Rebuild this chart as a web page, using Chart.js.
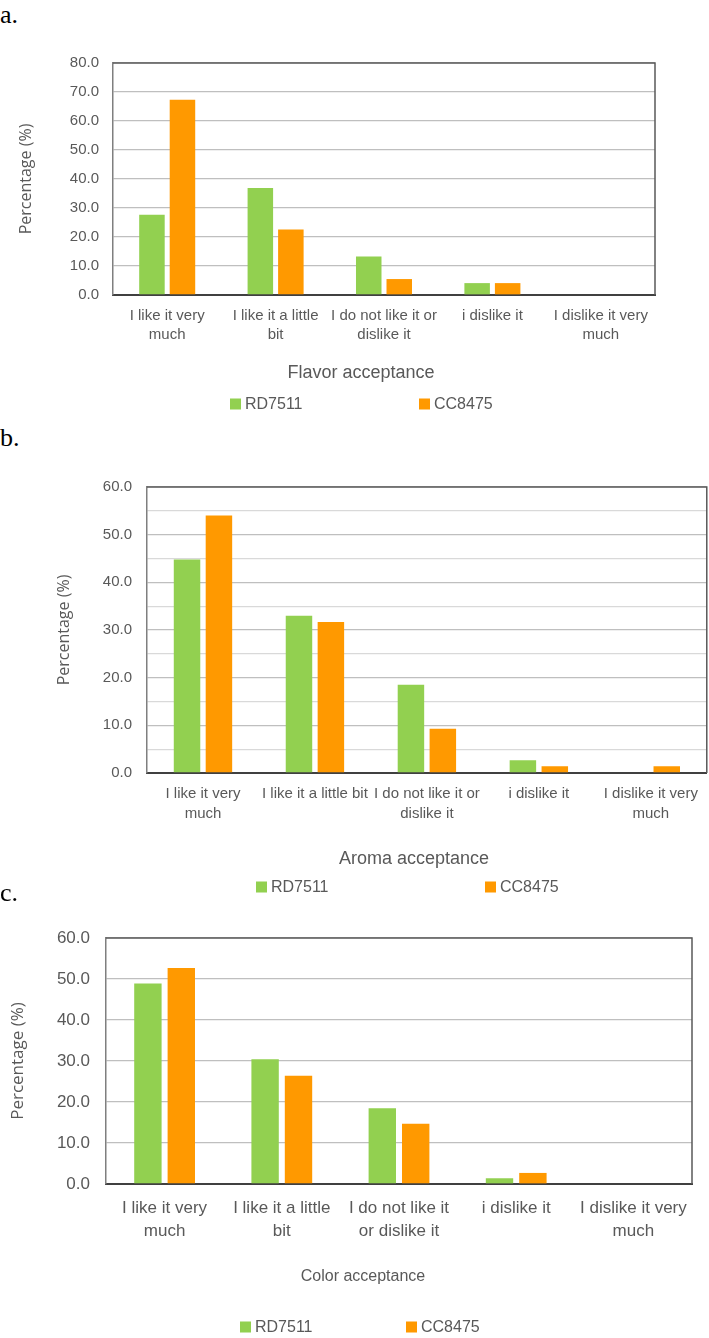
<!DOCTYPE html>
<html>
<head>
<meta charset="utf-8">
<script src="https://cdn.jsdelivr.net/npm/chart.js@4.4.1/dist/chart.umd.min.js"></script>
<style>
  body { margin: 0; background: #fff; width: 709px; height: 1338px; position: relative; overflow: hidden; }
  .panel { position: absolute; left: 0; width: 709px; }
  .tag { position: absolute; left: 0; font: 26px/26px "Liberation Serif", "Times New Roman", serif; color: #000; }
</style>
</head>
<body>
<div class="tag" style="top:2px">a.</div>
<div class="panel" style="top:40px;height:380px"><canvas id="flavorChart"></canvas></div>
<div class="tag" style="top:425px">b.</div>
<div class="panel" style="top:460px;height:440px"><canvas id="aromaChart"></canvas></div>
<div class="tag" style="top:880px">c.</div>
<div class="panel" style="top:910px;height:428px"><canvas id="colorChart"></canvas></div>

<script>
// answers
const flavorLabels = [['I like it very', 'much'], ['I like it a little', 'bit'], ['I do not like it or', 'dislike it'], 'i dislike it', ['I dislike it very', 'much']];
const flavorRD7511 = [27.7, 36.9, 13.3, 4.1, 0];
const flavorCC8475 = [67.3, 22.6, 5.5, 4.1, 0];

const aromaLabels = [['I like it very', 'much'], 'I like it a little bit', ['I do not like it or', 'dislike it'], 'i dislike it', ['I dislike it very', 'much']];
const aromaRD7511 = [44.8, 33.0, 18.5, 2.7, 0];
const aromaCC8475 = [54.0, 31.7, 9.3, 1.4, 1.4];

const colorLabels = [['I like it very', 'much'], ['I like it a little', 'bit'], ['I do not like it', 'or dislike it'], 'i dislike it', ['I dislike it very', 'much']];
const colorRD7511 = [48.9, 30.4, 18.5, 1.4, 0];
const colorCC8475 = [52.7, 26.4, 14.7, 2.7, 0];

const seriesNames = ['RD7511', 'CC8475'];
const seriesColors = ['#92d050', '#ff9900'];

const SANS = '"Liberation Sans", Arial, sans-serif';
const TEXT = '#595959';

// plot frame on top and right, excel style
const plotFrame = {
    id: 'plotFrame',
    afterDraw(chart) {
        const { left, top, right, bottom } = chart.chartArea;
        const ctx = chart.ctx;
        ctx.save();
        ctx.strokeStyle = '#595959';
        ctx.lineWidth = 1.5;
        ctx.beginPath();
        ctx.moveTo(left, top);
        ctx.lineTo(right, top);
        ctx.lineTo(right, bottom);
        ctx.stroke();
        ctx.restore();
    }
};

// caption under the axis and the legend row below it
const captionLegend = {
    id: 'captionLegend',
    afterDraw(chart, args, opts) {
        const ctx = chart.ctx;
        ctx.save();
        ctx.textBaseline = 'middle';
        ctx.fillStyle = TEXT;
        ctx.textAlign = 'center';
        ctx.font = opts.captionSize + 'px ' + SANS;
        ctx.fillText(opts.caption, opts.captionX, opts.captionY);
        ctx.textAlign = 'left';
        ctx.font = opts.legendSize + 'px ' + SANS;
        chart.data.datasets.forEach((ds, i) => {
            ctx.fillStyle = ds.backgroundColor;
            ctx.fillRect(opts.legendX[i], opts.legendY - opts.box / 2, opts.box, opts.box);
            ctx.fillStyle = TEXT;
            ctx.fillText(ds.label, opts.legendX[i] + opts.box + 4, opts.legendY + 1);
        });
        ctx.restore();
    }
};

function makeChart(id, labels, rd, cc, s) {
    return new Chart(document.getElementById(id), {
        type: 'bar',
        data: {
            labels: labels,
            datasets: [
                { label: seriesNames[0], data: rd, backgroundColor: seriesColors[0] },
                { label: seriesNames[1], data: cc, backgroundColor: seriesColors[1] }
            ]
        },
        options: {
            responsive: true,
            maintainAspectRatio: false,
            animation: false,
            categoryPercentage: s.catPct,
            barPercentage: s.barPct,
            layout: { padding: s.padding },
            scales: {
                x: {
                    grid: { display: false, drawTicks: false },
                    border: { color: '#404040', width: 2 },
                    ticks: {
                        color: TEXT, padding: s.xTickPad, maxRotation: 0, autoSkip: false,
                        font: { family: SANS, size: s.tickSize, lineHeight: s.tickLine }
                    },
                    afterFit: scale => { scale.height = s.xHeight; }
                },
                y: {
                    min: 0, max: s.yMax,
                    grid: {
                        drawTicks: false,
                        lineWidth: 1.3,
                        color: c => c.tick.value % 10 === 0 ? '#bfbfbf' : '#d9d9d9'
                    },
                    border: { color: '#7f7f7f', width: 1.5 },
                    ticks: {
                        stepSize: 5, color: TEXT, padding: s.yTickPad,
                        font: { family: SANS, size: s.tickSize },
                        callback: v => v % 10 === 0 ? v.toFixed(1) : ''
                    },
                    title: {
                        display: true, text: 'Percentage (%)', color: TEXT, padding: 0,
                        font: { family: '"Open Sans", ' + SANS, size: s.yTitleSize, lineHeight: 1.2 }
                    },
                    afterFit: scale => { scale.width = s.yWidth; }
                }
            },
            plugins: {
                legend: { display: false },
                tooltip: { enabled: false },
                captionLegend: s.captionLegend
            }
        },
        plugins: [plotFrame, captionLegend]
    });
}

makeChart('flavorChart', flavorLabels, flavorRD7511, flavorCC8475, {
    yMax: 80, catPct: 0.563, barPct: 0.836,
    padding: { top: 21, right: 54, left: 17, bottom: 65 },
    yWidth: 96, xHeight: 60, tickSize: 15, tickLine: 1.29, xTickPad: 11, yTickPad: 14, yTitleSize: 16,
    captionLegend: { caption: 'Flavor acceptance', captionX: 361, captionY: 333, captionSize: 18,
        legendX: [230, 419], legendY: 364, box: 11, legendSize: 16 }
});

makeChart('aromaChart', aromaLabels, aromaRD7511, aromaCC8475, {
    yMax: 60, catPct: 0.57, barPct: 0.83,
    padding: { top: 27, right: 1, left: 55, bottom: 67 },
    yWidth: 92, xHeight: 60, tickSize: 15, tickLine: 1.33, xTickPad: 11, yTickPad: 15, yTitleSize: 16,
    captionLegend: { caption: 'Aroma acceptance', captionX: 414, captionY: 399, captionSize: 18,
        legendX: [256, 485], legendY: 427, box: 11, legendSize: 16 }
});

makeChart('colorChart', colorLabels, colorRD7511, colorCC8475, {
    yMax: 60, catPct: 0.57, barPct: 0.82,
    padding: { top: 28, right: 17, left: 8, bottom: 84 },
    yWidth: 98, xHeight: 70, tickSize: 17, tickLine: 1.35, xTickPad: 13, yTickPad: 16, yTitleSize: 17,
    captionLegend: { caption: 'Color acceptance', captionX: 363, captionY: 367, captionSize: 16,
        legendX: [240, 406], legendY: 417, box: 11, legendSize: 16 }
});
</script>
</body>
</html>
